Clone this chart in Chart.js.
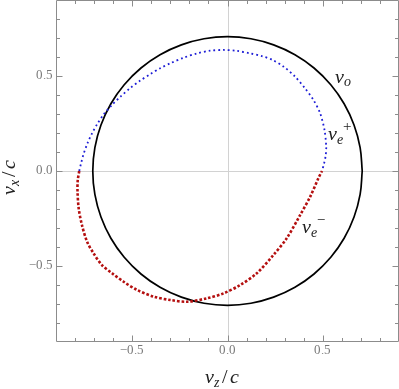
<!DOCTYPE html>
<html>
<head>
<meta charset="utf-8">
<script src="https://cdn.jsdelivr.net/npm/chart.js@4.4.1/dist/chart.umd.min.js"></script>
<style>
  html, body { margin: 0; padding: 0; background: #fff; }
  @font-face { font-family: 'MathSerif'; font-style: normal; src: local('Liberation Serif'), local('LiberationSerif'); }
  @font-face { font-family: 'MathSerif'; font-style: italic; src: local('Liberation Serif Italic'), local('LiberationSerif-Italic'); }
</style>
</head>
<body>
<canvas id="chart" width="399" height="389"></canvas>
<script>
// Velocity surfaces (v_z/c horizontal, v_x/c vertical)

// ordinary wave v_o : circle of radius ~0.707
const circleZ = [0.707, 0.696, 0.664, 0.612, 0.542, 0.454, 0.354, 0.242, 0.123, 0.000,
  -0.123, -0.242, -0.354, -0.454, -0.542, -0.612, -0.664, -0.696, -0.707,
  -0.696, -0.664, -0.612, -0.542, -0.454, -0.354, -0.242, -0.123, 0.000,
  0.123, 0.242, 0.354, 0.454, 0.542, 0.612, 0.664, 0.696, 0.707];
const circleX = [0.000, 0.123, 0.242, 0.354, 0.454, 0.542, 0.612, 0.664, 0.696, 0.707,
  0.696, 0.664, 0.612, 0.542, 0.454, 0.354, 0.242, 0.123, 0.000,
  -0.123, -0.242, -0.354, -0.454, -0.542, -0.612, -0.664, -0.696, -0.707,
  -0.696, -0.664, -0.612, -0.542, -0.454, -0.354, -0.242, -0.123, 0.000];

// v_e^+ (blue, upper branch)
const plusZ = [-0.778, -0.768, -0.755, -0.734, -0.710, -0.682, -0.648, -0.606, -0.560, -0.510,
  -0.458, -0.405, -0.353, -0.300, -0.231, -0.160, -0.091, -0.021, 0.049, 0.119,
  0.180, 0.235, 0.295, 0.355, 0.407, 0.451, 0.486, 0.509, 0.518, 0.515, 0.507, 0.496];
const plusX = [0.000, 0.042, 0.090, 0.148, 0.200, 0.250, 0.300, 0.348, 0.393, 0.437,
  0.476, 0.510, 0.541, 0.567, 0.596, 0.619, 0.633, 0.637, 0.632, 0.619,
  0.605, 0.585, 0.549, 0.496, 0.435, 0.374, 0.304, 0.216, 0.128, 0.080, 0.040, 0.000];

// v_e^- (red, lower branch)
const minusZ = [-0.778, -0.786, -0.787, -0.781, -0.764, -0.737, -0.703, -0.659, -0.606, -0.545,
  -0.475, -0.388, -0.300, -0.213, -0.108, -0.021, 0.067, 0.154, 0.241, 0.311,
  0.381, 0.434, 0.477, 0.496];
const minusX = [0.000, -0.050, -0.109, -0.196, -0.284, -0.372, -0.433, -0.495, -0.538, -0.583,
  -0.626, -0.661, -0.679, -0.688, -0.670, -0.644, -0.600, -0.538, -0.442, -0.354,
  -0.232, -0.135, -0.038, 0.000];

const majorTicks = [-0.5, 0, 0.5];
const minorTicks = [-0.8, -0.7, -0.6, -0.4, -0.3, -0.2, -0.1, 0.1, 0.2, 0.3, 0.4, 0.6, 0.7, 0.8];
const axisMin = -0.9, axisMax = 0.9;

const pts = (zs, xs) => zs.map((z, i) => ({ x: z, y: xs[i] }));

const SERIF = 'MathSerif';

function tickText(v) {
  return v.toFixed(1).replace('-', '\u2212');
}

function mathFont(p) {
  return (p.italic === false ? '' : 'italic ') + (p.size || 20) + 'px ' + SERIF;
}

// draw a run of math pieces: [{t, size, dy, italic, adv}]
function drawMath(ctx, parts, x, y, align) {
  let w = 0;
  parts.forEach(p => {
    ctx.font = mathFont(p);
    p.w = ctx.measureText(p.t).width;
    if (p.adv !== false) w += p.w + (p.gap || 0);
  });
  let cx = align === 'center' ? x - w / 2 : x;
  parts.forEach(p => {
    ctx.font = mathFont(p);
    ctx.fillText(p.t, cx + (p.dx || 0), y + (p.dy || 0));
    if (p.adv !== false) cx += p.w + (p.gap || 0);
  });
}

const framePlugin = {
  id: 'frame',
  beforeDatasetsDraw(chart) {
    const { ctx, chartArea: a, scales: { x, y } } = chart;
    ctx.save();
    ctx.strokeStyle = '#d2d2d2';
    ctx.lineWidth = 1;
    const px0 = Math.round(x.getPixelForValue(0)) + 0.5;
    const py0 = Math.round(y.getPixelForValue(0)) + 0.5;
    ctx.beginPath();
    ctx.moveTo(px0, a.top); ctx.lineTo(px0, a.bottom);
    ctx.moveTo(a.left, py0); ctx.lineTo(a.right, py0);
    ctx.stroke();
    ctx.restore();
  },
  afterDatasetsDraw(chart) {
    const { ctx, chartArea: a, scales: { x, y } } = chart;
    const L = a.left + 0.5, R = a.right - 0.5, T = a.top + 0.5, B = a.bottom - 0.5;
    ctx.save();
    ctx.strokeStyle = '#8c8c8c';
    ctx.lineWidth = 1;
    ctx.beginPath();
    ctx.rect(L, T, R - L, B - T);
    const tick = (v, len) => {
      const px = Math.round(x.getPixelForValue(v)) + 0.5;
      const py = Math.round(y.getPixelForValue(v)) + 0.5;
      ctx.moveTo(px, B); ctx.lineTo(px, B - len);
      ctx.moveTo(px, T); ctx.lineTo(px, T + len);
      ctx.moveTo(L, py); ctx.lineTo(L + len, py);
      ctx.moveTo(R, py); ctx.lineTo(R - len, py);
    };
    majorTicks.forEach(v => tick(v, 6));
    minorTicks.forEach(v => tick(v, 3.5));
    ctx.stroke();

    // tick labels
    ctx.fillStyle = '#777';
    ctx.font = '12.5px ' + SERIF;
    ctx.textBaseline = 'middle';
    ctx.textAlign = 'center';
    majorTicks.forEach(v => ctx.fillText(tickText(v), x.getPixelForValue(v), a.bottom + 9));
    ctx.textAlign = 'right';
    majorTicks.forEach(v => ctx.fillText(tickText(v), a.left - 3, y.getPixelForValue(v)));

    // axis titles
    ctx.fillStyle = '#222';
    ctx.textAlign = 'left';
    ctx.textBaseline = 'alphabetic';
    drawMath(ctx, [
      { t: 'v' }, { t: 'z', size: 14, dy: 4, gap: 3 }, { t: '/', italic: false, gap: 2 }, { t: 'c' }
    ], 222, 383, 'center');
    ctx.save();
    ctx.translate(15, 177);
    ctx.rotate(-Math.PI / 2);
    drawMath(ctx, [
      { t: 'v' }, { t: 'x', size: 14, dy: 4, gap: 3 }, { t: '/', italic: false, gap: 2 }, { t: 'c' }
    ], 0, 0, 'center');
    ctx.restore();

    // curve labels, anchored in data coordinates
    const lab = (z, xv, parts) => drawMath(ctx, parts, x.getPixelForValue(z), y.getPixelForValue(xv), 'left');
    lab(0.565, 0.463, [{ t: 'v' }, { t: 'o', size: 14, dy: 3 }]);
    lab(0.528, 0.163, [{ t: 'v' }, { t: 'e', size: 14, dy: 4, adv: false }, { t: '+', size: 15, italic: false, dy: -8, dx: 6 }]);
    lab(0.392, -0.326, [{ t: 'v' }, { t: 'e', size: 14, dy: 4, adv: false }, { t: '\u2212', size: 15, italic: false, dy: -8, dx: 6 }]);
    ctx.restore();
  }
};

function draw() {
  new Chart(document.getElementById('chart'), {
    type: 'scatter',
    data: {
      datasets: [
        {
          label: 'v_e+',
          data: pts(plusZ, plusX),
          showLine: true,
          borderColor: '#1d1dd6',
          borderWidth: 1.8,
          borderDash: [1.8, 3],
          tension: 0.3,
          pointRadius: 0,
          order: 1
        },
        {
          label: 'v_e-',
          data: pts(minusZ, minusX),
          showLine: true,
          borderColor: '#b40f0f',
          borderWidth: 2.6,
          borderDash: [2.6, 1.9],
          tension: 0.3,
          pointRadius: 0,
          order: 2
        },
        {
          label: 'v_o',
          data: pts(circleZ, circleX),
          showLine: true,
          borderColor: '#000',
          borderWidth: 1.7,
          tension: 0.4,
          pointRadius: 0,
          order: 3
        }
      ]
    },
    options: {
      responsive: false,
      animation: false,
      layout: { padding: 0 },
      plugins: { legend: { display: false }, tooltip: { enabled: false } },
      scales: {
        x: {
          type: 'linear', min: axisMin, max: axisMax,
          grid: { display: false }, border: { display: false },
          ticks: { display: false },
          afterFit(s) { s.height = 47; }
        },
        y: {
          type: 'linear', min: axisMin, max: axisMax,
          grid: { display: false }, border: { display: false },
          ticks: { display: false },
          afterFit(s) { s.width = 56; }
        }
      }
    },
    plugins: [framePlugin]
  });
}

Promise.all([
  document.fonts.load('12px MathSerif'),
  document.fonts.load('italic 20px MathSerif')
]).catch(() => {}).then(draw);
</script>
</body>
</html>
